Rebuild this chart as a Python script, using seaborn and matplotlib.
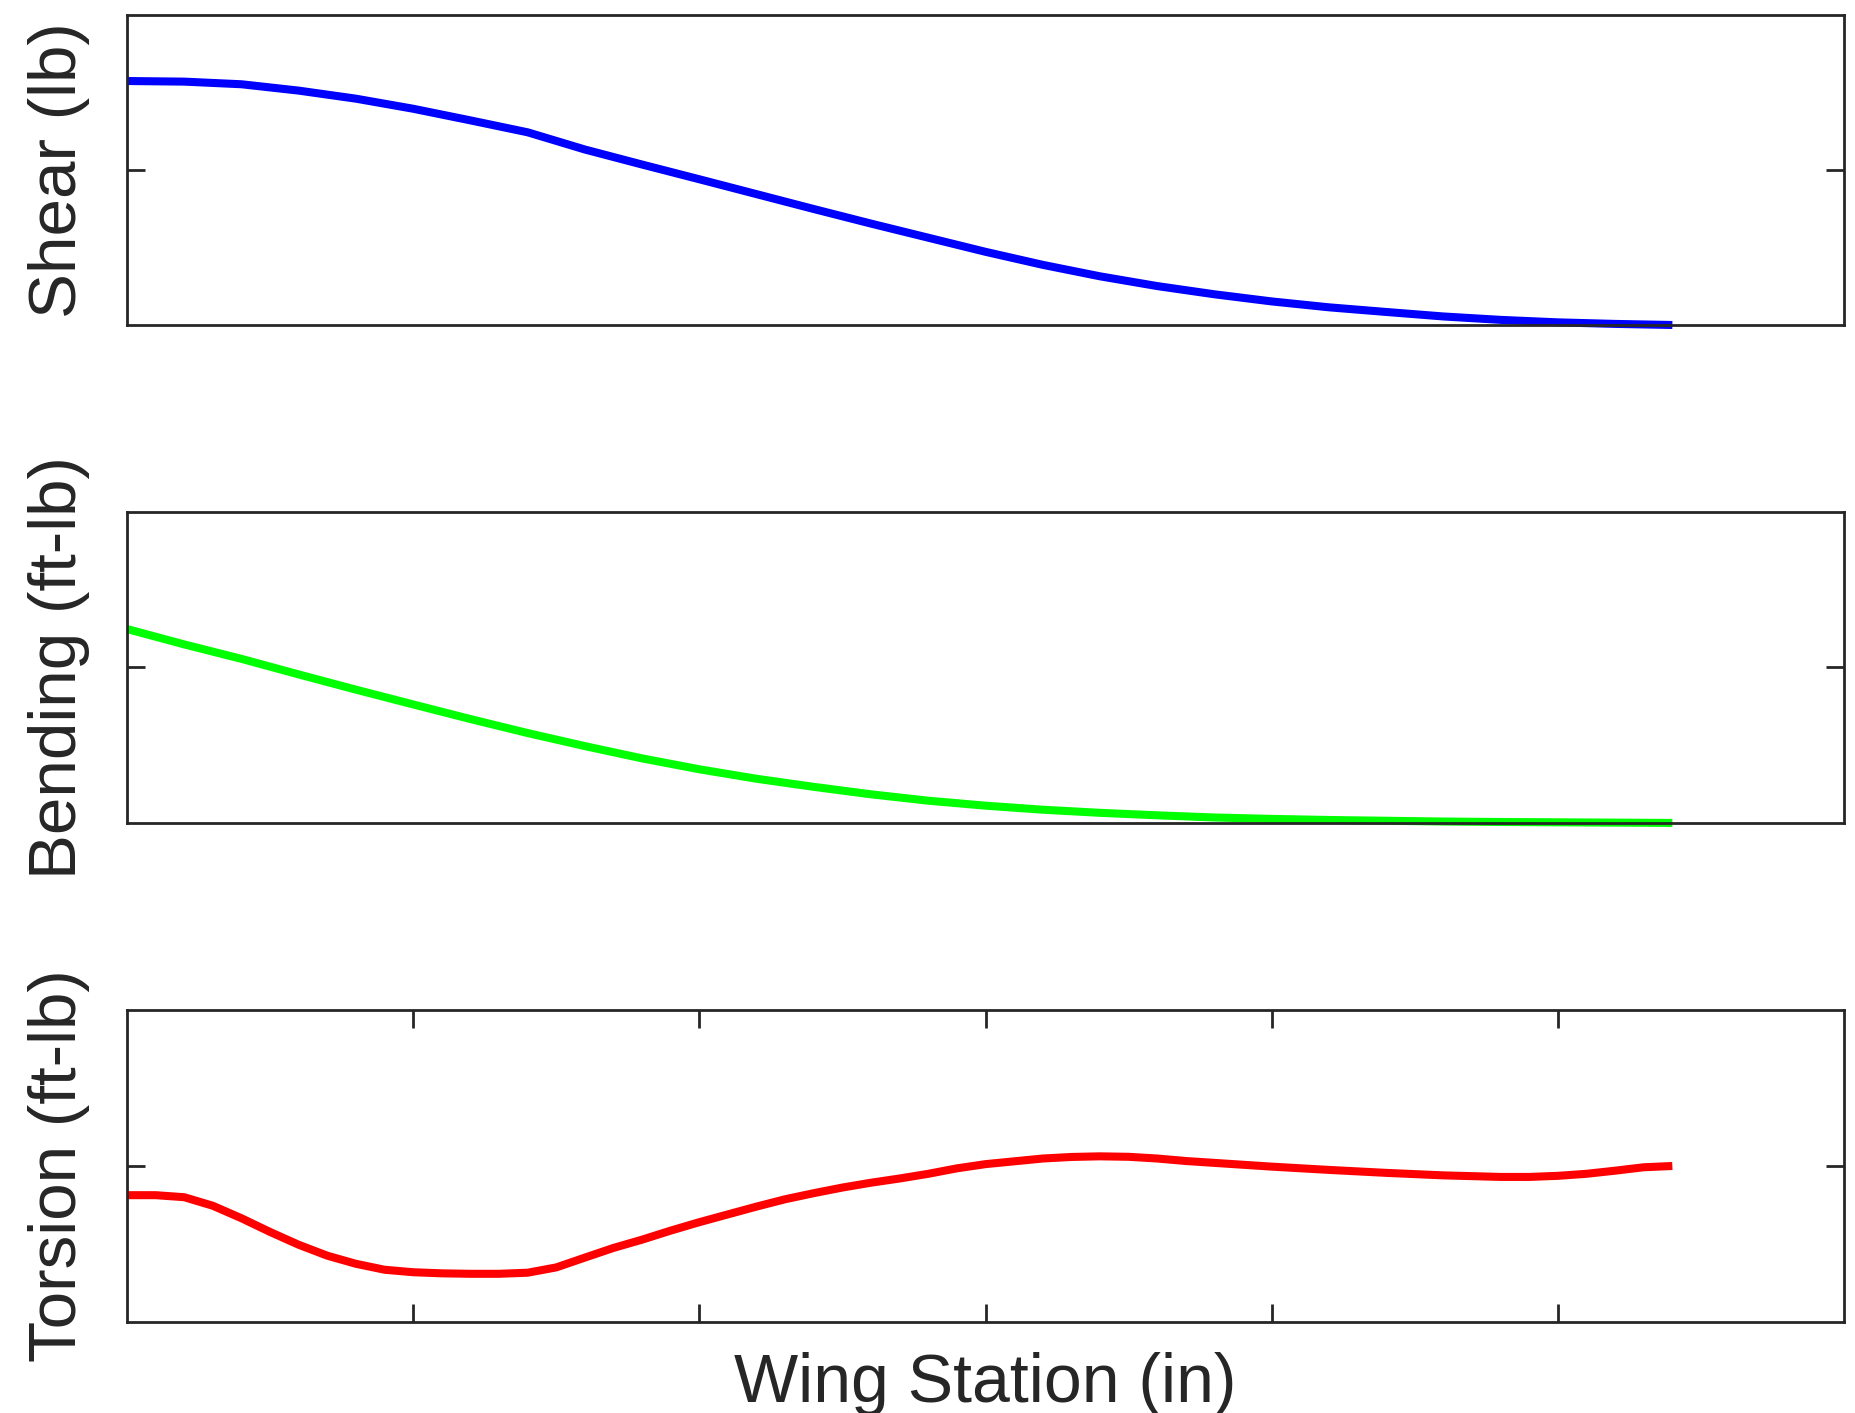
import numpy as np
import pandas as pd
import matplotlib
matplotlib.use('Agg')
import matplotlib.pyplot as plt
import seaborn as sns

# wing stations (in)
station = [0, 10, 20, 30, 40, 50, 60, 70, 80, 90, 100, 110, 120, 130,
           140, 150, 160, 170, 180, 190, 200, 210, 220, 230, 240, 250, 260, 270]
shear = [1.574, 1.570, 1.553, 1.512, 1.460, 1.395, 1.320, 1.243, 1.132, 1.035,
         0.940, 0.844, 0.748, 0.654, 0.563, 0.472, 0.388, 0.314, 0.251, 0.198,
         0.152, 0.114, 0.084, 0.055, 0.033, 0.017, 0.007, 0.0]
bending = [1.247, 1.148, 1.055, 0.955, 0.857, 0.762, 0.668, 0.578, 0.494, 0.415,
           0.345, 0.284, 0.232, 0.184, 0.143, 0.111, 0.085, 0.065, 0.049, 0.035,
           0.026, 0.019, 0.014, 0.009, 0.006, 0.004, 0.002, 0.0]

# torsion read on a finer station grid
torsion_station = [0, 5, 10, 15, 20, 25, 30, 35, 40, 45, 50, 55, 60, 65, 70, 75,
                   80, 85, 90, 95, 100, 105, 110, 115, 120, 125, 130, 135, 140,
                   145, 150, 155, 160, 165, 170, 175, 180, 185, 190, 195, 200,
                   210, 220, 230, 240, 245, 250, 255, 260, 265, 270]
torsion = [0.813, 0.813, 0.800, 0.745, 0.665, 0.577, 0.495, 0.425, 0.373, 0.335,
           0.319, 0.312, 0.309, 0.309, 0.316, 0.350, 0.413, 0.475, 0.528, 0.586,
           0.640, 0.690, 0.740, 0.787, 0.826, 0.862, 0.893, 0.920, 0.950, 0.985,
           1.012, 1.030, 1.048, 1.058, 1.062, 1.059, 1.048, 1.032, 1.020, 1.008,
           0.996, 0.975, 0.956, 0.940, 0.930, 0.930, 0.937, 0.950, 0.970, 0.992,
           1.000]

x_ticks = [50, 100, 150, 200, 250]

sns.set_theme(style='white')
plt.rcParams['font.family'] = ['Liberation Sans', 'DejaVu Sans']
plt.rcParams['axes.edgecolor'] = '#262626'
plt.rcParams['axes.linewidth'] = 2.0

fig = plt.figure(figsize=(18.55, 14.13), dpi=100)

panels = [
    (station, shear, '#0000ff', 'Shear (lb)', [0.0685, 0.7700, 0.9256, 0.2194]),
    (station, bending, '#00ff00', 'Bending (ft-lb)', [0.0685, 0.4176, 0.9256, 0.2201]),
    (torsion_station, torsion, '#ff0000', 'Torsion (ft-lb)', [0.0685, 0.0644, 0.9256, 0.2208]),
]

axes = []
for xs, ys, color, label, rect in panels:
    ax = fig.add_axes(rect)
    df = pd.DataFrame({'station': xs, 'value': ys})
    sns.lineplot(data=df, x='station', y='value', ax=ax, color=color,
                 linewidth=5.8, estimator=None, sort=False)
    for ln in ax.lines:
        ln.set_clip_on(False)
        ln.set_solid_capstyle('butt')
    ax.set_xlim(0, 300)
    ax.set_ylim(0, 2)
    ax.set_yticks([1])
    ax.set_yticklabels([])
    ax.set_xlabel('')
    ax.set_ylabel(label, fontsize=48.5, labelpad=23, color='#262626')
    ax.tick_params(axis='both', direction='in', length=13, width=2,
                   color='#262626', left=True, right=True)
    for sp in ax.spines.values():
        sp.set_visible(True)
        sp.set_color('#262626')
        sp.set_linewidth(2.0)
    axes.append(ax)

for ax in axes[:2]:
    ax.set_xticks([])

ax = axes[2]
ax.set_xticks(x_ticks)
ax.set_xticklabels([])
ax.tick_params(axis='x', top=True, bottom=True)
ax.set_xlabel('Wing Station (in)', fontsize=49, labelpad=18, color='#262626')

fig.savefig('out.png', dpi=100, facecolor='white')
